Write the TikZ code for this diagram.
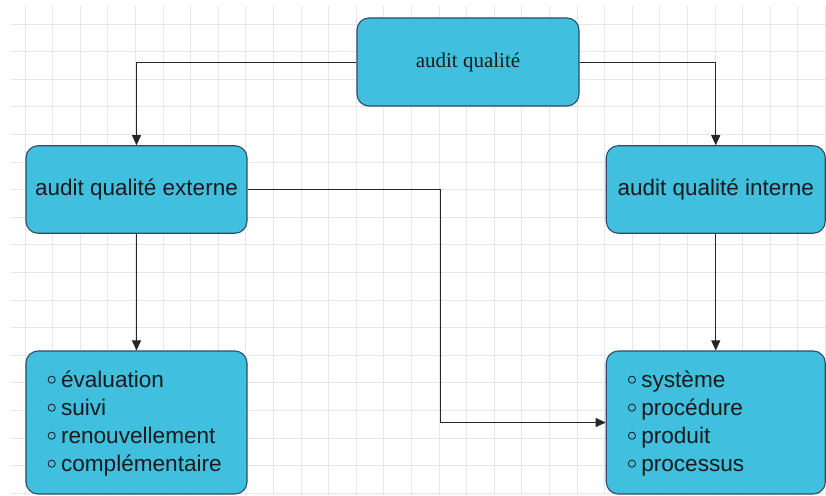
\documentclass[tikz,border=0pt]{standalone}
\usepackage{fontspec}
\setmainfont{Liberation Sans}
\newfontfamily\serifface{Liberation Serif}
\usetikzlibrary{arrows.meta}
\definecolor{boxfill}{HTML}{40C0DE}
\definecolor{boxline}{HTML}{2E4A68}
\definecolor{gridc}{HTML}{E6E6E6}
\definecolor{txt}{HTML}{1A1A1A}
\definecolor{connc}{HTML}{262626}
\newcommand\bul{\tikz[x=1pt,y=1pt,baseline=0pt]{\useasboundingbox (0,0) rectangle (13.3,0);\draw[draw=txt,line width=0.8pt] (4,8) circle[radius=3.6];}}
\begin{document}
\begin{tikzpicture}[x=1pt,y=-1pt,
  box/.style={draw=boxline, line width=1.1pt, fill=boxfill, rounded corners=12pt, text=txt},
  headbox/.style={box, minimum height=87.5pt, font=\fontsize{22.5}{26}\selectfont},
  listbox/.style={box, minimum height=143pt, inner xsep=21.7pt, align=left, font=\fontsize{22.6}{28}\selectfont},
  conn/.style={draw=connc, line width=0.9pt, -{Triangle[length=10pt,width=9pt]}},
  gridline/.style={draw=gridc, line width=0.8pt}]
\useasboundingbox (0,0) rectangle (826,495);
\fill[white] (0,0) rectangle (826,495);
\foreach \i in {0,...,29} \draw[gridline] ({25+27.6*\i},6) -- ({25+27.6*\i},495);
\foreach \j in {0,...,17} \draw[gridline] (11,{24+27.6*\j}) -- (826,{24+27.6*\j});

\node[box, minimum width=222pt, minimum height=88pt, font=\serifface\fontsize{21}{25}\selectfont] (top) at (468,62) {\raisebox{-1.5pt}{audit qualité}};
\node[headbox, minimum width=221pt] (ext) at (136.5,189.5) {\raisebox{-2pt}{audit qualité externe}};
\node[headbox, minimum width=219pt] (int) at (715.75,189.5) {\raisebox{-2pt}{audit qualité interne}};
\node[listbox, text width=177.6pt] (extlist) at (136.5,422.5)
  {\rule{0pt}{20pt}\bul évaluation\\ \bul suivi\\ \bul renouvellement\\ \bul complémentaire\rule[-5.6pt]{0pt}{0pt}};
\node[listbox, text width=175.6pt] (intlist) at (715.75,422.5)
  {\rule{0pt}{20pt}\bul système\\ \bul procédure\\ \bul produit\\ \bul processus\rule[-5.6pt]{0pt}{0pt}};

\coordinate (bendx) at (440,0);
\draw[conn] (top.west) -| (ext.north);
\draw[conn] (top.east) -| (int.north);
\draw[conn] (ext.south) -- (extlist.north);
\draw[conn] (int.south) -- (intlist.north);
\draw[conn] (ext.east) -| (bendx |- intlist.west) -- (intlist.west);
\end{tikzpicture}
\end{document}
